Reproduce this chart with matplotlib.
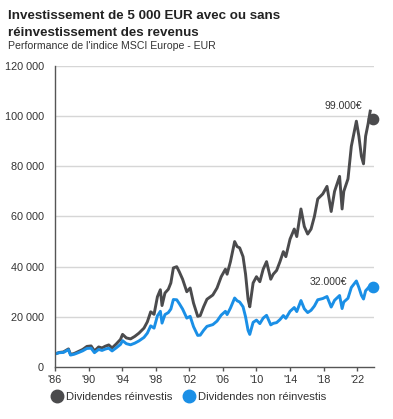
import matplotlib
matplotlib.use("Agg")
import matplotlib.pyplot as plt
from matplotlib.lines import Line2D

plt.rcParams['font.family'] = ['Liberation Sans', 'DejaVu Sans']

years = [1986.0, 1986.5, 1987.0, 1987.6, 1987.85, 1988.3, 1988.8, 1989.3, 1989.8,
         1990.3, 1990.7, 1991.2, 1991.6, 1992.0, 1992.4, 1992.8, 1993.3, 1993.8,
         1994.05, 1994.5, 1995.0, 1995.5, 1996.0, 1996.6, 1997.0, 1997.4, 1997.8,
         1998.2, 1998.55, 1998.75, 1999.1, 1999.5, 1999.8, 2000.1, 2000.5, 2000.8,
         2001.2, 2001.7, 2002.1, 2002.5, 2003.0, 2003.3, 2003.7, 2004.1, 2004.8,
         2005.3, 2005.8, 2006.3, 2006.5, 2006.9, 2007.4, 2007.7, 2008.0, 2008.4,
         2008.7, 2009.0, 2009.2, 2009.6, 2010.0, 2010.4, 2010.8, 2011.2, 2011.7,
         2012.0, 2012.4, 2012.8, 2013.2, 2013.5, 2014.0, 2014.5, 2014.8, 2015.3,
         2015.7, 2016.1, 2016.5, 2016.9, 2017.3, 2017.9, 2018.4, 2018.9, 2019.3,
         2019.9, 2020.2, 2020.4, 2020.9, 2021.3, 2021.9, 2022.2, 2022.5, 2022.75,
         2023.0, 2023.3, 2023.55]

reinvested = [5200, 5800, 6000, 7200, 5000, 5400, 6200, 7000, 8200,
              8400, 6400, 8000, 7600, 8300, 8800, 7600, 9200, 11000,
              13000, 11600, 11200, 12200, 13500, 15500, 18000, 22000, 21000,
              28000, 30800, 24500, 29500, 31000, 33500, 39500, 40000, 38000,
              35000, 30000, 31500, 25500, 20200, 20500, 24000, 27000, 28700,
              31500, 36000, 39000, 37000, 42000, 50000, 48000, 47500, 44000,
              37000, 27000, 24000, 33500, 36000, 34000, 39000, 42000, 35000,
              37000, 38500, 42000, 46000, 44000, 51000, 55000, 52000, 63000,
              56000, 53000, 55000, 60000, 67000, 69000, 72000, 62000, 70000,
              76000, 63000, 70000, 75000, 88000, 98000, 92000, 84000, 81000,
              92000, 97000, 102000]

non_reinvested = [5200, 5700, 5800, 6900, 4750, 5100, 5750, 6450, 7400,
                  7500, 5700, 7000, 6600, 7150, 7500, 6400, 7650, 9000,
                  10500, 9300, 8850, 9500, 10400, 11800, 13500, 16400, 15500,
                  20400, 22200, 17500, 20900, 21700, 23100, 26900, 26800, 25300,
                  23100, 19500, 20200, 16100, 12600, 12700, 14600, 16200, 16900,
                  18300, 20700, 22200, 20900, 23500, 27500, 26400, 25900, 24000,
                  20000, 14600, 13000, 17800, 18700, 17300, 19500, 20600, 16800,
                  17400, 17700, 18900, 20500, 19400, 22200, 23700, 22100, 26500,
                  23200, 21700, 22600, 24300, 26800, 27300, 28100, 23900, 26600,
                  28500, 23300, 25900, 27400, 31700, 34300, 31700, 28600, 27100,
                  30400, 31500]

end_year = 2023.9
end_values = [99000, 32000]
end_labels = ['99.000€', '32.000€']

series_names = ['Dividendes réinvestis', 'Dividendes non réinvestis']
colors = ['#4b4b4d', '#1a8fe6']

xtick_years = [1986, 1990, 1994, 1998, 2002, 2006, 2010, 2014, 2018, 2022]
xtick_labels = ["'86", "'90", "'94", "'98", "'02", "'06", "'10", "'14", "'18", "'22"]
ytick_values = [0, 20000, 40000, 60000, 80000, 100000, 120000]
ytick_labels = ['0', '20 000', '40 000', '60 000', '80 000', '100 000', '120 000']

fig = plt.figure(figsize=(3.93, 4.19), dpi=100)
ax = fig.add_axes([55/393, 1-367/419, (374-55)/393, (367-66)/419])

ax.plot(years, reinvested, color=colors[0], lw=2.1, solid_joinstyle='round')
ax.plot(years[:len(non_reinvested)], non_reinvested, color=colors[1], lw=2.1,
        solid_joinstyle='round')
ax.scatter([end_year], [end_values[0]], s=55, color=colors[0], zorder=5, clip_on=False)
ax.scatter([end_year], [end_values[1]], s=55, color=colors[1], zorder=5, clip_on=False)

ax.text(2022.6, 104000, end_labels[0], ha='right', va='center', fontsize=7.5, color='#333333')
ax.text(2020.8, 34000, end_labels[1], ha='right', va='center', fontsize=7.5, color='#333333')

ax.set_xlim(1986, 2024)
ax.set_ylim(0, 120000)
ax.set_xticks(xtick_years)
ax.set_xticklabels(xtick_labels)
ax.set_yticks(ytick_values)
ax.set_yticklabels(ytick_labels)
ax.tick_params(axis='y', length=0, pad=8, labelsize=7.8, labelcolor='#333333')
ax.tick_params(axis='x', length=3, width=1, color='#555555', pad=3, labelsize=7.8,
               labelcolor='#333333')
for v in ytick_values[1:]:
    ax.axhline(v, color='#d6d6d6', lw=1, zorder=0)
for s in ['top', 'right']:
    ax.spines[s].set_visible(False)
for s in ['left', 'bottom']:
    ax.spines[s].set_color('#555555')
    ax.spines[s].set_linewidth(1)

handles = [Line2D([], [], ls='none', marker='o', markersize=9, color=c) for c in colors]
fig.legend(handles, series_names, loc='center', bbox_to_anchor=(0.48, 1-397/419),
           ncol=2, frameon=False, fontsize=8.1, handletextpad=0.3, columnspacing=1.0,
           handlelength=1.0, labelcolor='#333333')

fig.text(8/393, 1-10/419, 'Investissement de 5 000 EUR avec ou sans\nréinvestissement des revenus',
         ha='left', va='top', fontsize=9.6, fontweight='bold', color='#222222', linespacing=1.55)
fig.text(8/393, 1-46/419, "Performance de l'indice MSCI Europe - EUR", ha='left', va='center',
         fontsize=7.6, color='#333333')

fig.savefig('out.png', dpi=100)
